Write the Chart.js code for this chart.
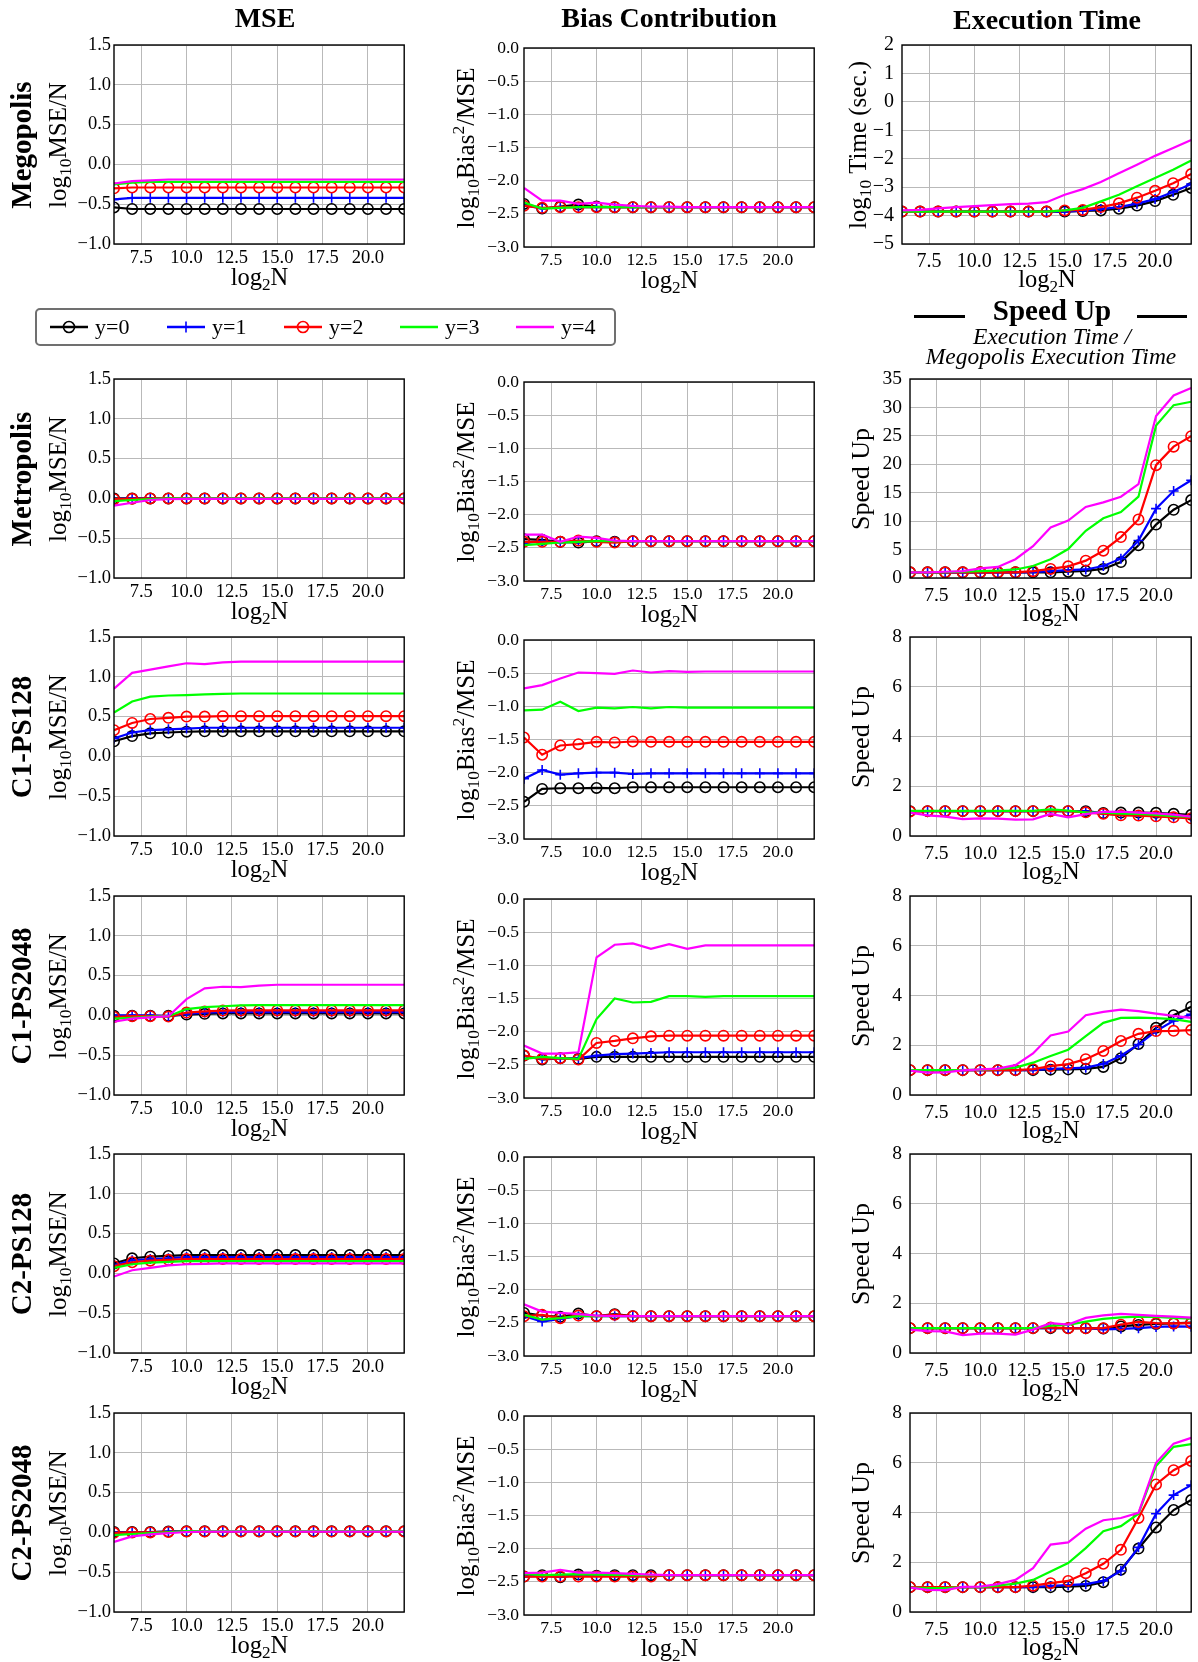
<!DOCTYPE html>
<html>
<head>
<meta charset="utf-8">
<script src="https://cdn.jsdelivr.net/npm/chart.js@4.4.0/dist/chart.umd.min.js"></script>
<style>
  html, body { margin: 0; padding: 0; background: #fff; }
  body { width: 1198px; height: 1662px; position: relative; overflow: hidden;
         font-family: "Liberation Serif", "Times New Roman", serif; color: #000; }
  canvas { position: absolute; }
  .t { position: absolute; white-space: nowrap; line-height: 1; transform: translate(-50%, -50%); z-index: 2; }
  .rot { transform: translate(-50%, -50%) rotate(-90deg); }
  .b { font-weight: bold; }
  .i { font-style: italic; }
  sub { font-size: 0.7em; vertical-align: -0.3em; line-height: 0; }
  sup { font-size: 0.7em; vertical-align: 0.55em; line-height: 0; }
  .bar { position: absolute; background: #000; height: 3px; }
  #legendBox { position: absolute; left: 35px; top: 308px; width: 581px; height: 38px; box-sizing: border-box;
               border: 2px solid #707070; border-radius: 5px; background: #fff; }
  .leg { position: absolute; }
</style>
</head>
<body>
<script>
// ---------------- data ----------------
const xValues = [6, 7, 8, 9, 10, 11, 12, 13, 14, 15, 16, 17, 18, 19, 20, 21, 22];
const xTicks = [7.5, 10, 12.5, 15, 17.5, 20];
const mseTicks = [-1.0, -0.5, 0.0, 0.5, 1.0, 1.5];
const biasTicks = [-3.0, -2.5, -2.0, -1.5, -1.0, -0.5, 0.0];
const timeTicks = [-5, -4, -3, -2, -1, 0, 1, 2];
const speedTicksMetropolis = [0, 5, 10, 15, 20, 25, 30, 35];
const speedTicks = [0, 2, 4, 6, 8];
const seriesLabels = ['y=0', 'y=1', 'y=2', 'y=3', 'y=4'];
const rowLabels = ['Megopolis', 'Metropolis', 'C1-PS128', 'C1-PS2048', 'C2-PS128', 'C2-PS2048'];
const columnTitles = ['MSE', 'Bias Contribution', 'Execution Time'];

// Megopolis
const mseMegopolis = [
  [-0.54,-0.56,-0.56,-0.56,-0.56,-0.56,-0.56,-0.56,-0.56,-0.56,-0.56,-0.56,-0.56,-0.56,-0.56,-0.56,-0.56],
  [-0.44,-0.42,-0.42,-0.42,-0.42,-0.42,-0.42,-0.42,-0.42,-0.42,-0.42,-0.42,-0.42,-0.42,-0.42,-0.42,-0.42],
  [-0.30,-0.29,-0.29,-0.29,-0.29,-0.29,-0.29,-0.29,-0.29,-0.29,-0.29,-0.29,-0.29,-0.29,-0.29,-0.29,-0.29],
  [-0.25,-0.23,-0.22,-0.22,-0.22,-0.22,-0.22,-0.22,-0.22,-0.22,-0.22,-0.22,-0.22,-0.22,-0.22,-0.22,-0.22],
  [-0.24,-0.21,-0.20,-0.19,-0.19,-0.19,-0.19,-0.19,-0.19,-0.19,-0.19,-0.19,-0.19,-0.19,-0.19,-0.19,-0.19]
];
const biasMegopolis = [
  [-2.35,-2.42,-2.39,-2.36,-2.39,-2.40,-2.40,-2.40,-2.40,-2.40,-2.40,-2.40,-2.40,-2.40,-2.40,-2.40,-2.40],
  [-2.37,-2.42,-2.40,-2.40,-2.40,-2.40,-2.40,-2.40,-2.40,-2.40,-2.40,-2.40,-2.40,-2.40,-2.40,-2.40,-2.40],
  [-2.38,-2.41,-2.40,-2.40,-2.40,-2.40,-2.40,-2.40,-2.40,-2.40,-2.40,-2.40,-2.40,-2.40,-2.40,-2.40,-2.40],
  [-2.33,-2.42,-2.41,-2.40,-2.40,-2.40,-2.40,-2.40,-2.40,-2.40,-2.40,-2.40,-2.40,-2.40,-2.40,-2.40,-2.40],
  [-2.11,-2.30,-2.30,-2.35,-2.33,-2.36,-2.38,-2.39,-2.39,-2.40,-2.40,-2.40,-2.40,-2.40,-2.40,-2.40,-2.40]
];
const timeMegopolis = [
  [-3.86,-3.86,-3.86,-3.86,-3.86,-3.86,-3.86,-3.86,-3.86,-3.86,-3.84,-3.82,-3.76,-3.65,-3.49,-3.27,-3.03],
  [-3.86,-3.86,-3.86,-3.86,-3.86,-3.86,-3.86,-3.86,-3.86,-3.86,-3.83,-3.77,-3.70,-3.58,-3.42,-3.17,-2.89],
  [-3.86,-3.86,-3.86,-3.86,-3.86,-3.86,-3.86,-3.86,-3.86,-3.82,-3.80,-3.70,-3.57,-3.37,-3.13,-2.86,-2.54],
  [-3.86,-3.86,-3.86,-3.86,-3.86,-3.86,-3.86,-3.86,-3.86,-3.82,-3.73,-3.50,-3.27,-2.97,-2.68,-2.39,-2.06],
  [-3.82,-3.80,-3.75,-3.70,-3.67,-3.63,-3.60,-3.58,-3.53,-3.27,-3.07,-2.82,-2.51,-2.21,-1.90,-1.62,-1.34]
];
// Metropolis
const mseMetropolis = [
  [0.00,0.00,0.00,0.00,0.00,0.00,0.00,0.00,0.00,0.00,0.00,0.00,0.00,0.00,0.00,0.00,0.00],
  [-0.01,0.00,0.00,0.00,0.00,0.00,0.00,0.00,0.00,0.00,0.00,0.00,0.00,0.00,0.00,0.00,0.00],
  [-0.01,-0.005,0.00,0.00,0.00,0.00,0.00,0.00,0.00,0.00,0.00,0.00,0.00,0.00,0.00,0.00,0.00],
  [-0.035,-0.02,-0.01,0.00,0.00,0.00,0.00,0.00,0.00,0.00,0.00,0.00,0.00,0.00,0.00,0.00,0.00],
  [-0.09,-0.055,-0.02,-0.01,-0.005,-0.005,-0.005,-0.005,-0.005,-0.005,-0.005,-0.005,-0.005,-0.005,-0.005,-0.005,-0.005]
];
const biasMetropolis = [
  [-2.37,-2.38,-2.41,-2.42,-2.40,-2.41,-2.40,-2.40,-2.40,-2.40,-2.40,-2.40,-2.40,-2.40,-2.40,-2.40,-2.40],
  [-2.43,-2.40,-2.42,-2.40,-2.40,-2.40,-2.40,-2.40,-2.40,-2.40,-2.40,-2.40,-2.40,-2.40,-2.40,-2.40,-2.40],
  [-2.41,-2.41,-2.41,-2.39,-2.41,-2.42,-2.40,-2.40,-2.40,-2.40,-2.40,-2.40,-2.40,-2.40,-2.40,-2.40,-2.40],
  [-2.46,-2.44,-2.42,-2.41,-2.40,-2.40,-2.40,-2.40,-2.40,-2.40,-2.40,-2.40,-2.40,-2.40,-2.40,-2.40,-2.40],
  [-2.30,-2.30,-2.41,-2.33,-2.35,-2.39,-2.40,-2.40,-2.40,-2.40,-2.40,-2.40,-2.40,-2.40,-2.40,-2.40,-2.40]
];
const speedMetropolis = [
  [1.0,1.0,1.0,1.0,1.0,1.0,1.0,1.0,1.0,1.1,1.25,1.6,2.8,5.75,9.4,12.0,13.7],
  [1.0,1.0,1.0,1.0,1.0,1.0,1.0,1.05,1.2,1.4,1.5,2.1,3.4,6.6,12.2,15.3,17.2],
  [1.0,1.0,1.0,1.0,1.0,1.0,1.0,1.2,1.6,2.05,3.05,4.8,7.2,10.3,19.85,23.1,24.95],
  [1.0,1.0,1.05,1.1,1.2,1.3,1.5,2.1,3.3,5.1,8.3,10.5,11.6,14.3,26.8,30.4,31.0],
  [1.0,1.0,1.1,1.2,1.7,1.95,3.3,5.6,8.9,10.1,12.5,13.3,14.3,16.5,28.5,32.1,33.4]
];
// C1-PS128
const mseC1PS128 = [
  [0.19,0.255,0.29,0.30,0.31,0.315,0.315,0.315,0.315,0.315,0.315,0.315,0.315,0.315,0.315,0.315,0.315],
  [0.225,0.30,0.33,0.34,0.35,0.36,0.36,0.36,0.36,0.36,0.36,0.36,0.36,0.36,0.36,0.36,0.36],
  [0.33,0.42,0.47,0.485,0.50,0.50,0.505,0.505,0.505,0.505,0.505,0.505,0.505,0.505,0.505,0.505,0.505],
  [0.55,0.69,0.75,0.765,0.77,0.78,0.785,0.79,0.79,0.79,0.79,0.79,0.79,0.79,0.79,0.79,0.79],
  [0.85,1.05,1.09,1.13,1.17,1.16,1.18,1.19,1.19,1.19,1.19,1.19,1.19,1.19,1.19,1.19,1.19]
];
const biasC1PS128 = [
  [-2.44,-2.245,-2.235,-2.235,-2.23,-2.235,-2.22,-2.22,-2.22,-2.22,-2.22,-2.22,-2.22,-2.22,-2.22,-2.22,-2.22],
  [-2.09,-1.96,-2.03,-2.01,-2.00,-2.00,-2.02,-2.01,-2.01,-2.01,-2.01,-2.01,-2.01,-2.01,-2.01,-2.01,-2.01],
  [-1.47,-1.73,-1.59,-1.57,-1.535,-1.545,-1.53,-1.535,-1.535,-1.535,-1.535,-1.535,-1.535,-1.535,-1.535,-1.535,-1.535],
  [-1.06,-1.05,-0.93,-1.07,-1.02,-1.03,-1.01,-1.03,-1.01,-1.02,-1.02,-1.02,-1.02,-1.02,-1.02,-1.02,-1.02],
  [-0.73,-0.68,-0.58,-0.49,-0.50,-0.51,-0.46,-0.49,-0.47,-0.48,-0.475,-0.475,-0.475,-0.475,-0.475,-0.475,-0.475]
];
const speedC1PS128 = [
  [1.0,1.0,1.0,1.0,1.0,1.0,1.0,1.0,1.0,1.0,1.0,0.92,0.94,0.94,0.93,0.89,0.85],
  [1.0,1.0,1.0,1.0,1.0,1.0,1.0,1.0,1.0,1.0,1.0,0.90,0.86,0.83,0.80,0.77,0.74],
  [0.98,1.0,1.0,1.0,1.0,1.0,1.0,1.0,1.0,1.0,0.95,0.89,0.83,0.82,0.79,0.75,0.71],
  [1.01,1.01,1.01,1.01,1.01,1.01,1.01,1.01,1.07,1.02,0.95,0.94,0.90,0.89,0.85,0.80,0.78],
  [0.94,0.83,0.78,0.68,0.71,0.70,0.66,0.67,0.89,0.75,0.88,0.97,0.98,0.94,0.91,0.86,0.78]
];
// C1-PS2048
const mseC1PS2048 = [
  [-0.005,-0.005,-0.005,-0.005,0.01,0.02,0.025,0.025,0.025,0.025,0.025,0.025,0.025,0.025,0.025,0.025,0.025],
  [0.00,0.00,0.00,-0.01,0.02,0.035,0.04,0.04,0.04,0.04,0.04,0.04,0.04,0.04,0.04,0.04,0.04],
  [-0.02,-0.01,-0.01,-0.015,0.035,0.05,0.06,0.063,0.063,0.063,0.063,0.063,0.063,0.063,0.063,0.063,0.063],
  [-0.04,-0.03,-0.015,-0.01,0.08,0.105,0.115,0.125,0.13,0.13,0.13,0.13,0.13,0.13,0.13,0.13,0.13],
  [-0.08,-0.04,-0.025,-0.01,0.205,0.34,0.36,0.355,0.375,0.385,0.385,0.385,0.385,0.385,0.385,0.385,0.385]
];
const biasC1PS2048 = [
  [-2.36,-2.42,-2.40,-2.41,-2.38,-2.38,-2.38,-2.38,-2.38,-2.38,-2.38,-2.38,-2.38,-2.38,-2.38,-2.38,-2.38],
  [-2.37,-2.41,-2.40,-2.40,-2.36,-2.34,-2.33,-2.32,-2.31,-2.31,-2.31,-2.31,-2.31,-2.31,-2.31,-2.31,-2.31],
  [-2.36,-2.41,-2.40,-2.42,-2.17,-2.14,-2.10,-2.07,-2.06,-2.06,-2.06,-2.06,-2.06,-2.06,-2.06,-2.06,-2.06],
  [-2.41,-2.38,-2.40,-2.41,-1.81,-1.50,-1.56,-1.55,-1.465,-1.465,-1.475,-1.465,-1.465,-1.465,-1.465,-1.465,-1.465],
  [-2.21,-2.33,-2.33,-2.31,-0.88,-0.69,-0.67,-0.75,-0.68,-0.75,-0.70,-0.70,-0.70,-0.70,-0.70,-0.70,-0.70]
];
const speedC1PS2048 = [
  [1.0,1.0,1.0,1.0,1.0,1.0,1.0,1.0,1.02,1.03,1.05,1.13,1.48,2.05,2.70,3.21,3.55],
  [1.0,1.0,1.0,1.0,1.0,1.0,1.0,1.0,1.05,1.07,1.10,1.25,1.58,2.03,2.57,2.98,3.24],
  [1.0,1.0,1.0,1.0,1.0,1.0,1.0,1.04,1.16,1.24,1.44,1.77,2.17,2.46,2.57,2.58,2.61],
  [1.0,1.0,1.0,1.0,1.02,1.05,1.10,1.30,1.57,1.82,2.37,2.90,3.10,3.11,3.09,3.05,2.94],
  [0.98,0.90,0.91,0.99,1.03,1.06,1.20,1.67,2.39,2.55,3.21,3.34,3.43,3.37,3.27,3.18,3.10]
];
// C2-PS128
const mseC2PS128 = [
  [0.125,0.19,0.21,0.22,0.23,0.23,0.23,0.23,0.23,0.23,0.23,0.23,0.23,0.23,0.23,0.23,0.23],
  [0.105,0.165,0.18,0.19,0.205,0.205,0.205,0.205,0.205,0.205,0.205,0.205,0.205,0.205,0.205,0.205,0.205],
  [0.09,0.14,0.16,0.17,0.18,0.18,0.18,0.18,0.18,0.18,0.18,0.18,0.18,0.18,0.18,0.18,0.18],
  [0.07,0.115,0.135,0.145,0.155,0.155,0.155,0.155,0.155,0.155,0.155,0.155,0.155,0.155,0.155,0.155,0.155],
  [-0.04,0.04,0.07,0.10,0.115,0.12,0.125,0.125,0.125,0.125,0.125,0.125,0.125,0.125,0.125,0.125,0.125]
];
const biasC2PS128 = [
  [-2.35,-2.39,-2.41,-2.36,-2.40,-2.37,-2.40,-2.40,-2.40,-2.40,-2.40,-2.40,-2.40,-2.40,-2.40,-2.40,-2.40],
  [-2.40,-2.48,-2.44,-2.40,-2.40,-2.40,-2.40,-2.40,-2.40,-2.40,-2.40,-2.40,-2.40,-2.40,-2.40,-2.40,-2.40],
  [-2.40,-2.38,-2.43,-2.39,-2.40,-2.38,-2.40,-2.40,-2.40,-2.40,-2.40,-2.40,-2.40,-2.40,-2.40,-2.40,-2.40],
  [-2.38,-2.45,-2.43,-2.40,-2.40,-2.40,-2.40,-2.40,-2.40,-2.40,-2.40,-2.40,-2.40,-2.40,-2.40,-2.40,-2.40],
  [-2.22,-2.33,-2.35,-2.37,-2.39,-2.40,-2.40,-2.40,-2.40,-2.40,-2.40,-2.40,-2.40,-2.40,-2.40,-2.40,-2.40]
];
const speedC2PS128 = [
  [1.0,1.0,1.0,1.0,1.0,1.0,1.0,1.0,1.0,1.0,1.0,0.98,1.07,1.13,1.17,1.19,1.22],
  [1.0,1.0,1.0,1.0,1.0,1.0,1.0,1.0,1.0,1.0,1.0,0.95,0.97,1.00,1.05,1.07,1.06],
  [1.0,1.0,1.0,1.0,1.0,1.0,1.0,1.0,1.03,0.99,0.99,1.00,1.14,1.25,1.20,1.19,1.20],
  [1.0,1.0,1.0,1.0,1.0,1.0,1.0,1.0,1.10,1.13,1.26,1.37,1.43,1.46,1.45,1.41,1.38],
  [0.94,0.88,0.87,0.72,0.78,0.78,0.74,0.94,1.20,1.14,1.41,1.51,1.57,1.53,1.49,1.46,1.42]
];
// C2-PS2048
const mseC2PS2048 = [
  [0.005,0.005,0.005,0.01,0.015,0.015,0.015,0.015,0.015,0.015,0.015,0.015,0.015,0.015,0.015,0.015,0.015],
  [0.00,0.00,0.005,0.01,0.012,0.012,0.012,0.012,0.012,0.012,0.012,0.012,0.012,0.012,0.012,0.012,0.012],
  [-0.005,0.00,0.00,0.005,0.01,0.01,0.01,0.01,0.01,0.01,0.01,0.01,0.01,0.01,0.01,0.01,0.01],
  [-0.035,-0.02,-0.01,0.00,0.015,0.015,0.015,0.015,0.015,0.015,0.015,0.015,0.015,0.015,0.015,0.015,0.015],
  [-0.12,-0.05,-0.025,-0.01,0.005,0.01,0.01,0.01,0.01,0.01,0.01,0.01,0.01,0.01,0.01,0.01,0.01]
];
const biasC2PS2048 = [
  [-2.42,-2.40,-2.43,-2.39,-2.41,-2.40,-2.40,-2.40,-2.40,-2.40,-2.40,-2.40,-2.40,-2.40,-2.40,-2.40,-2.40],
  [-2.42,-2.41,-2.42,-2.40,-2.41,-2.40,-2.40,-2.40,-2.40,-2.40,-2.40,-2.40,-2.40,-2.40,-2.40,-2.40,-2.40],
  [-2.42,-2.42,-2.42,-2.42,-2.42,-2.42,-2.42,-2.42,-2.40,-2.40,-2.40,-2.40,-2.40,-2.40,-2.40,-2.40,-2.40],
  [-2.38,-2.40,-2.39,-2.385,-2.39,-2.395,-2.40,-2.40,-2.40,-2.40,-2.40,-2.40,-2.40,-2.40,-2.40,-2.40,-2.40],
  [-2.37,-2.36,-2.32,-2.36,-2.36,-2.37,-2.38,-2.39,-2.40,-2.40,-2.40,-2.40,-2.40,-2.40,-2.40,-2.40,-2.40]
];
const speedC2PS2048 = [
  [1.0,1.0,1.0,1.0,1.0,1.0,1.0,1.0,1.0,1.02,1.05,1.20,1.70,2.55,3.40,4.10,4.50],
  [1.0,1.0,1.0,1.0,1.0,1.0,1.0,1.0,1.05,1.08,1.12,1.25,1.65,2.60,3.95,4.70,5.10],
  [1.0,1.0,1.0,1.0,1.0,1.0,1.0,1.06,1.16,1.25,1.56,1.94,2.50,3.78,5.13,5.70,6.07],
  [0.98,0.96,0.96,1.0,1.0,1.06,1.14,1.29,1.63,1.97,2.57,3.25,3.45,3.95,5.87,6.64,6.75],
  [0.98,0.89,0.88,1.01,1.02,1.12,1.29,1.76,2.71,2.80,3.35,3.69,3.78,3.99,6.00,6.77,7.00]
];

// ---------------- styles / layout ----------------
const seriesColors = ['#000000', '#0000ff', '#ff0000', '#00ff00', '#ff00ff'];
const seriesMarkers = ['circle', 'cross', 'circle', null, null];
const markerRadius = [5.2, 5, 5.2, 0, 0];
const FONT = '"Liberation Serif", "Times New Roman", serif';
const GRID = '#b9b9b9';
const PAD_L = 56, PAD_T = 28, PAD_R = 6, PAD_B = 40, PLOT_H = 199;
const rowTop = [45, 379, 637, 896, 1154, 1413];
const colGeom = [
  { L: 114, R: 405, dy: 0, fs: 18.5, yPad: 3, xPad: 3, yTitleX: 57 },
  { L: 524, R: 815, dy: 3, fs: 17.5, yPad: 5, xPad: 3, yTitleX: 465 },
  { L: 910, R: 1192, dy: 0, fs: 19.5, yPad: 8, xPad: 6, yTitleX: 861 }
];

const grid = [
  [mseMegopolis, biasMegopolis, timeMegopolis],
  [mseMetropolis, biasMetropolis, speedMetropolis],
  [mseC1PS128, biasC1PS128, speedC1PS128],
  [mseC1PS2048, biasC1PS2048, speedC1PS2048],
  [mseC2PS128, biasC2PS128, speedC2PS128],
  [mseC2PS2048, biasC2PS2048, speedC2PS2048]
];

function yAxisFor(row, col) {
  if (col === 0) return { ticks: mseTicks, min: -1.0, max: 1.5, dec: 1 };
  if (col === 1) return { ticks: biasTicks, min: -3.0, max: 0.0, dec: 1 };
  if (row === 0) return { ticks: timeTicks, min: -5, max: 2, dec: 0 };
  if (row === 1) return { ticks: speedTicksMetropolis, min: 0, max: 35, dec: 0 };
  return { ticks: speedTicks, min: 0, max: 8, dec: 0 };
}

function fmtTick(v, dec) {
  const s = (Math.abs(v) < 1e-9 ? 0 : v).toFixed(dec);
  return s.replace('-', '\u2212');
}

const framePlugin = {
  id: 'frame',
  afterDatasetsDraw(chart) {
    const { ctx, chartArea: a } = chart;
    ctx.save();
    ctx.strokeStyle = '#000';
    ctx.lineWidth = 1.4;
    ctx.strokeRect(a.left, a.top, a.right - a.left, a.bottom - a.top);
    ctx.restore();
  }
};

function addText(html, x, y, size, cls, extraStyle) {
  const d = document.createElement('div');
  d.className = 't ' + (cls || '');
  d.style.left = x + 'px';
  d.style.top = y + 'px';
  d.style.fontSize = size + 'px';
  if (extraStyle) d.style.cssText += extraStyle;
  d.innerHTML = html;
  document.body.appendChild(d);
  return d;
}

function makePanel(row, col) {
  const g = colGeom[col];
  const L = (row === 0 && col === 2) ? 902 : g.L;
  const R = g.R;
  const T = rowTop[row] + g.dy;
  const W = R - L;
  const ya = yAxisFor(row, col);
  const series = grid[row][col];
  const fs = (row === 0 && col === 2) ? 20 : g.fs;

  const cv = document.createElement('canvas');
  cv.width = W + PAD_L + PAD_R;
  cv.height = PLOT_H + PAD_T + PAD_B;
  cv.style.left = (L - PAD_L) + 'px';
  cv.style.top = (T - PAD_T) + 'px';
  cv.style.width = cv.width + 'px';
  cv.style.height = cv.height + 'px';
  document.body.appendChild(cv);

  new Chart(cv, {
    type: 'line',
    data: {
      datasets: series.map((vals, i) => ({
        label: seriesLabels[i],
        data: xValues.map((x, j) => ({ x: x, y: vals[j] })),
        borderColor: seriesColors[i],
        backgroundColor: 'rgba(0,0,0,0)',
        borderWidth: 2.2,
        tension: 0,
        fill: false,
        pointStyle: seriesMarkers[i] || 'circle',
        pointRadius: markerRadius[i],
        pointHoverRadius: markerRadius[i],
        pointBorderWidth: 1.6,
        pointBorderColor: seriesColors[i],
        pointBackgroundColor: 'rgba(0,0,0,0)',
        order: 4 - i,
        clip: 0
      }))
    },
    options: {
      responsive: false,
      animation: false,
      devicePixelRatio: 1,
      events: [],
      layout: { padding: { left: 0, top: PAD_T, right: PAD_R, bottom: 0 } },
      plugins: { legend: { display: false }, tooltip: { enabled: false }, title: { display: false } },
      scales: {
        x: {
          type: 'linear', min: 6, max: 22,
          afterBuildTicks: s => { s.ticks = xTicks.map(v => ({ value: v })); },
          afterFit: s => { s.height = PAD_B; },
          ticks: { callback: v => fmtTick(v, 1), font: { family: FONT, size: fs }, color: '#000',
                   padding: g.xPad, maxRotation: 0, minRotation: 0, autoSkip: false },
          grid: { color: GRID, lineWidth: 1, drawTicks: false },
          border: { display: false }
        },
        y: {
          type: 'linear', min: ya.min, max: ya.max,
          afterBuildTicks: s => { s.ticks = ya.ticks.map(v => ({ value: v })); },
          afterFit: s => { s.width = PAD_L; },
          ticks: { callback: v => fmtTick(v, ya.dec), font: { family: FONT, size: fs }, color: '#000',
                   padding: g.yPad, autoSkip: false },
          grid: { color: GRID, lineWidth: 1, drawTicks: false },
          border: { display: false }
        }
      }
    },
    plugins: [framePlugin]
  });

  // axis titles
  const cy = T + PLOT_H / 2;
  addText('log<sub>2</sub>N', (L + R) / 2, T + PLOT_H + (col === 2 ? 35 : 33), 24.5, '');
  let yTitle, ySize = 25, yX = g.yTitleX;
  if (col === 0) yTitle = 'log<sub>10</sub>MSE/N';
  else if (col === 1) yTitle = 'log<sub>10</sub>Bias<sup>2</sup>/MSE';
  else if (row === 0) { yTitle = 'log<sub>10</sub> Time (sec.)'; yX = 857; }
  else { yTitle = 'Speed Up'; ySize = 26; }
  addText(yTitle, yX, cy, ySize, 'rot');
  if (col === 0) addText(rowLabels[row], 21, cy, 29, 'rot b');
}

for (let r = 0; r < 6; r++) for (let c = 0; c < 3; c++) makePanel(r, c);

// column titles
addText(columnTitles[0], 265, 17.5, 28, 'b');
addText(columnTitles[1], 669, 17.5, 28, 'b');
addText(columnTitles[2], 1047, 20, 28, 'b');

// legend
const lb = document.createElement('div');
lb.id = 'legendBox';
document.body.appendChild(lb);
const legendX = [50, 167, 284, 400, 516];
seriesLabels.forEach((lab, i) => {
  const x0 = legendX[i];
  const c = seriesColors[i];
  let marker = '';
  if (seriesMarkers[i] === 'circle') marker = `<circle cx="19" cy="10" r="5.5" fill="none" stroke="${c}" stroke-width="1.6"/>`;
  if (seriesMarkers[i] === 'cross') marker = `<line x1="14" y1="10" x2="24" y2="10" stroke="${c}" stroke-width="1.6"/><line x1="19" y1="4.5" x2="19" y2="15.5" stroke="${c}" stroke-width="1.6"/>`;
  const svg = document.createElement('div');
  svg.className = 'leg';
  svg.style.cssText = `left:${x0}px;top:317px;width:40px;height:20px;z-index:3;`;
  svg.innerHTML = `<svg width="40" height="20"><line x1="0" y1="10" x2="38" y2="10" stroke="${c}" stroke-width="2.4"/>${marker}</svg>`;
  document.body.appendChild(svg);
  const t = addText(lab, x0 + 45, 327, 22, '');
  t.style.transform = 'translate(0,-50%)';
  t.style.zIndex = 3;
});

// speed up header
addText('Speed Up', 1052, 310, 29, 'b');
const b1 = document.createElement('div'); b1.className = 'bar';
b1.style.cssText += 'left:914px;top:315px;width:51px;';
document.body.appendChild(b1);
const b2 = document.createElement('div'); b2.className = 'bar';
b2.style.cssText += 'left:1137px;top:315px;width:50px;';
document.body.appendChild(b2);
addText('Execution Time /', 1052, 337, 23.5, 'i');
addText('Megopolis Execution Time', 1051, 357, 23.5, 'i');
</script>
</body>
</html>
